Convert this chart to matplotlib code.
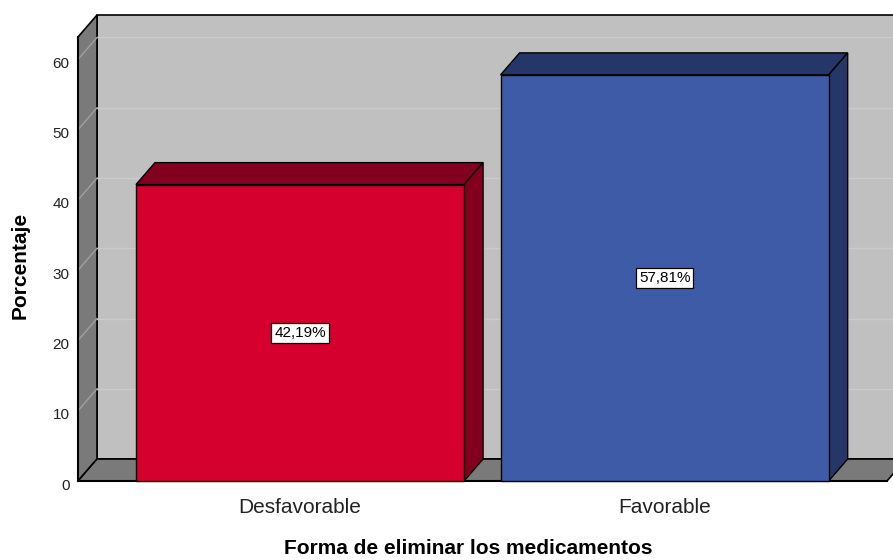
import numpy as np
import matplotlib.pyplot as plt
import matplotlib.transforms as mtransforms
from matplotlib.patches import Polygon

categorias = ['Desfavorable', 'Favorable']
porcentajes = [42.19, 57.81]
etiquetas = ['42,19%', '57,81%']
colores = ['#d5002e', '#3e5ba8']
colores_oscuros = ['#82001e', '#253768']
yticks = [0, 10, 20, 30, 40, 50, 60]

plt.rcParams['font.family'] = ['Liberation Sans', 'DejaVu Sans']

fig = plt.figure(figsize=(8.93, 5.6), dpi=100)
ax = fig.add_axes([78 / 893, 79 / 560, 809 / 893, 444 / 560])

xmin, xmax = -0.609, 1.610
ymin, ymax = 0, 63.2
ax.set_xlim(xmin, xmax)
ax.set_ylim(ymin, ymax)

# profundidad del efecto 3D (en unidades de datos)
dx = 19 / 364.5
dy = 22 / 7.03

# paredes
back = Polygon([(xmin + dx, dy), (xmax + dx, dy), (xmax + dx, ymax + dy), (xmin + dx, ymax + dy)],
               closed=True, facecolor='#c0c0c0', edgecolor='black', lw=1.2, clip_on=False, zorder=1)
left = Polygon([(xmin, 0), (xmin + dx, dy), (xmin + dx, ymax + dy), (xmin, ymax)],
               closed=True, facecolor='#7a7a7a', edgecolor='black', lw=1.2, clip_on=False, zorder=1)
floor = Polygon([(xmin, 0), (xmax, 0), (xmax + dx, dy), (xmin + dx, dy)],
                closed=True, facecolor='#7a7a7a', edgecolor='black', lw=1.2, clip_on=False, zorder=1)
for p in [back, left, floor]:
    ax.add_patch(p)

for v in yticks[1:]:
    ax.plot([xmin + dx, xmax + dx], [v + dy, v + dy], color='#cbcbcb', lw=1, clip_on=False, zorder=2)
    ax.plot([xmin, xmin + dx], [v, v + dy], color='#a0a0a0', lw=1, clip_on=False, zorder=2)

ax.plot([xmin, xmin], [0, ymax], color='black', lw=1.5, clip_on=False, zorder=3)
ax.plot([xmin, xmax], [0, 0], color='black', lw=1.5, clip_on=False, zorder=3)

# barras
x = np.arange(len(categorias))
w = 0.9
for i in range(len(categorias)):
    x0 = x[i] - w / 2
    x1 = x[i] + w / 2
    h = porcentajes[i]
    top = Polygon([(x0, h), (x1, h), (x1 + dx, h + dy), (x0 + dx, h + dy)],
                  closed=True, facecolor=colores_oscuros[i], edgecolor='black', lw=1, clip_on=False, zorder=4)
    side = Polygon([(x1, 0), (x1 + dx, dy), (x1 + dx, h + dy), (x1, h)],
                   closed=True, facecolor=colores_oscuros[i], edgecolor='black', lw=1, clip_on=False, zorder=4)
    ax.add_patch(top)
    ax.add_patch(side)

ax.bar(x, porcentajes, width=w, color=colores, edgecolor='black', lw=1, zorder=5, clip_on=False)

for i in range(len(categorias)):
    ax.text(x[i], porcentajes[i] / 2, etiquetas[i], ha='center', va='center', fontsize=11,
            color='black', zorder=6,
            bbox=dict(boxstyle='square,pad=0.18', facecolor='white', edgecolor='black', lw=0.9))

for s in ax.spines.values():
    s.set_visible(False)
ax.patch.set_visible(False)

ax.set_yticks(yticks)
ax.set_yticklabels([str(v) for v in yticks], fontsize=11, color='#222222')
ax.set_xticks(x)
ax.set_xticklabels(categorias, fontsize=15, color='#222222')
ax.tick_params(axis='y', length=0, pad=6)
ax.tick_params(axis='x', length=0, pad=12)

desplaza = mtransforms.ScaledTranslation(0, -3 / 100, fig.dpi_scale_trans)
for lbl in ax.get_yticklabels():
    lbl.set_transform(lbl.get_transform() + desplaza)

fig.text(468 / 893, 1 - 549 / 560, 'Forma de eliminar los medicamentos', ha='center', va='center',
         fontsize=15, fontweight='bold')
fig.text(20 / 893, 1 - 265 / 560, 'Porcentaje', ha='center', va='center', rotation=90,
         fontsize=15, fontweight='bold')

fig.savefig('out.png', dpi=100)
